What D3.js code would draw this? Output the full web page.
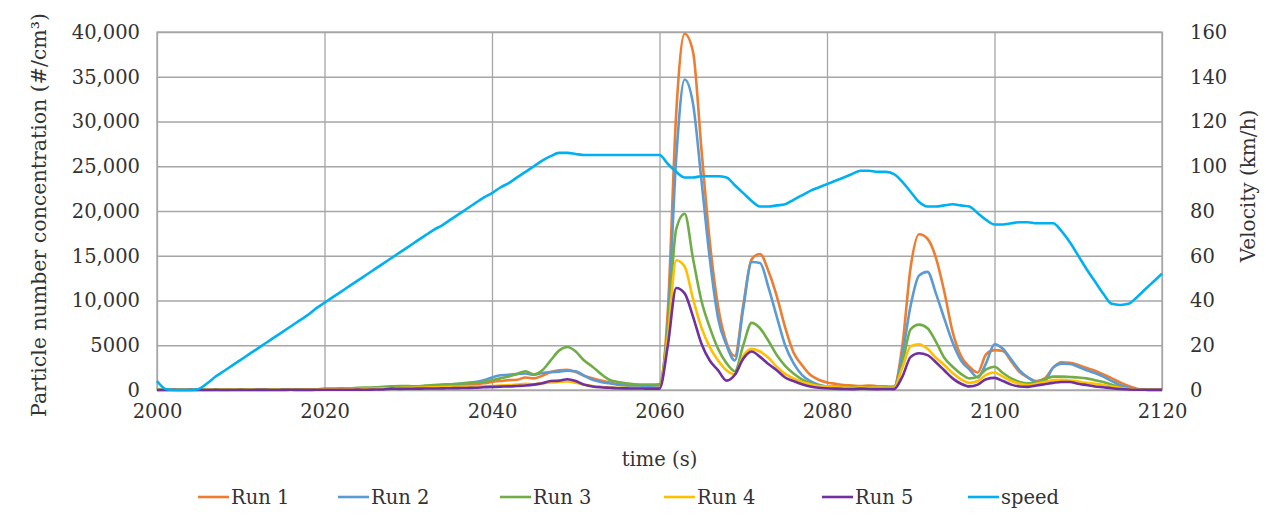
<!DOCTYPE html>
<html>
<head>
<meta charset="utf-8">
<script src="https://cdn.jsdelivr.net/npm/d3@7"></script>
<style>
  body { margin: 0; background: #ffffff; }
  svg text { font-family: "DejaVu Serif", "Liberation Serif", serif; fill: #333333; }
</style>
</head>
<body>
<svg id="chart" width="1266" height="525"></svg>
<script>
// Particle number concentration (#/cm³) sampled once per second, t = 2000 … 2120 s
const startTime = 2000;

const run1 = [
  40, 30, 20, 30, 20, 30, 20, 30, 40, 30,
  30, 40, 30, 50, 40, 40, 60, 50, 60, 70,
  60, 80, 100, 90, 130, 150, 180, 200, 250, 280,
  300, 330, 380, 400, 450, 500, 550, 600, 650, 750,
  900, 1000, 1100, 1150, 1400, 1300, 1600, 2000, 2200, 2250,
  2000, 1600, 1300, 1050, 850, 650, 550, 450, 400, 380,
  400, 9000, 31000, 39800, 37800, 27000, 16600, 9300, 5300, 3800,
  9500, 14600, 15200, 13300, 10500, 7000, 4200, 2800, 1700, 1150,
  850, 700, 550, 500, 450, 500, 420, 400, 380, 5000,
  13800, 17400, 16900, 14800, 11000, 6500, 3800, 2600, 1950, 4000,
  4450, 4350, 3200, 2000, 1400, 1000, 1300, 2500, 3100, 3050,
  2800, 2450, 2150, 1750, 1300, 850, 450, 150, 60, 30,
  20
];

const run2 = [
  20, 30, 20, 20, 30, 20, 30, 20, 30, 20,
  30, 30, 40, 30, 50, 40, 50, 60, 50, 70,
  80, 90, 100, 120, 140, 160, 190, 220, 260, 300,
  350, 400, 420, 480, 550, 600, 700, 800, 900, 1100,
  1400, 1650, 1700, 1800, 1850, 1700, 1900, 2000, 2050, 2150,
  2100, 1600, 1150, 900, 750, 600, 500, 450, 400, 400,
  450, 7500, 26000, 34700, 32000, 23500, 14700, 8000, 5000, 3300,
  9100, 14300, 14200, 11500, 8200, 5000, 3000, 1700, 1000, 600,
  400, 350, 300, 350, 300, 400, 350, 300, 300, 4000,
  9500, 12800, 13200, 10800, 8000, 5300, 3300, 2300, 1400, 3000,
  5100, 4600, 3400, 2200, 1400, 900, 1000, 2500, 2950, 2900,
  2600, 2200, 1900, 1500, 1000, 550, 250, 80, 40, 20,
  20
];

const run3 = [
  60, 40, 30, 40, 30, 40, 30, 40, 50, 40,
  40, 50, 40, 60, 50, 60, 70, 80, 70, 90,
  150, 150, 200, 180, 250, 280, 300, 350, 400, 450,
  450, 400, 500, 550, 600, 650, 700, 750, 800, 900,
  1100, 1300, 1500, 1800, 2100, 1750, 2200, 3300, 4400, 4800,
  4300, 3300, 2600, 1800, 1150, 900, 750, 650, 600, 600,
  650, 7000, 18000, 19700, 14700, 10000, 7000, 4600, 3000, 2100,
  5000, 7500, 6900, 5500, 3900, 2700, 1850, 1200, 750, 500,
  370, 350, 300, 320, 280, 300, 250, 300, 280, 3000,
  6800, 7300, 6900, 5400, 3600, 2600, 1800, 1300, 1500, 2300,
  2600, 1900, 1300, 900, 750, 800, 1200, 1500, 1500, 1450,
  1400, 1300, 1100, 900, 600, 300, 150, 80, 40, 20,
  20
];

const run4 = [
  10, 10, 20, 10, 10, 20, 10, 20, 10, 20,
  20, 20, 30, 20, 30, 30, 40, 30, 50, 60,
  80, 70, 90, 100, 120, 130, 150, 180, 200, 220,
  250, 260, 280, 300, 320, 350, 370, 380, 400, 420,
  450, 500, 550, 600, 700, 650, 750, 850, 900, 950,
  800, 600, 450, 350, 300, 250, 230, 220, 200, 200,
  250, 6000, 14500, 13800, 10200, 7000, 4800, 3300, 2200, 1750,
  3800, 4600, 4300, 3600, 2600, 1800, 1300, 900, 650, 450,
  380, 300, 280, 250, 300, 250, 280, 250, 250, 2500,
  4900, 5100, 4600, 3600, 2800, 1900, 1200, 800, 1000, 1700,
  1950, 1500, 1000, 700, 550, 700, 900, 1100, 1150, 1050,
  950, 800, 700, 550, 400, 250, 100, 50, 30, 20,
  20
];

const run5 = [
  0, 0, 10, 0, 10, 0, 0, 10, 0, 0,
  10, 0, 10, 10, 0, 10, 20, 10, 10, 20,
  20, 30, 20, 30, 40, 30, 50, 60, 150, 130,
  140, 150, 160, 170, 180, 200, 210, 230, 250, 300,
  350, 380, 400, 450, 500, 600, 750, 1000, 1050, 1200,
  1000, 600, 400, 300, 250, 200, 180, 170, 160, 150,
  150, 5000, 11400, 10800, 8200, 5200, 3300, 2200, 1050, 1700,
  3500, 4300, 3700, 2900, 2200, 1400, 1000, 650, 400, 250,
  190, 150, 120, 100, 150, 120, 100, 120, 100, 1500,
  3700, 4100, 3900, 3100, 2200, 1300, 700, 400, 600, 1200,
  1350, 1000, 600, 400, 350, 500, 650, 800, 900, 900,
  700, 550, 400, 300, 200, 120, 60, 30, 20, 10,
  10
];

// Vehicle speed (km/h), same time base
const speed = [
  4, 0.5, 0, 0, 0, 0.5, 3, 6, 8.5, 11,
  13.5, 16, 18.5, 21, 23.5, 26, 28.5, 31, 33.5, 36.5,
  39, 41.5, 44, 46.5, 49, 51.5, 54, 56.5, 59, 61.5,
  64, 66.5, 69, 71.5, 73.5, 76, 78.5, 81, 83.5, 86,
  88, 90.5, 92.5, 95, 97.5, 100, 102.5, 104.5, 106, 106,
  105.5, 105, 105, 105, 105, 105, 105, 105, 105, 105,
  105, 101, 97.5, 95, 95, 95.5, 95.5, 95.5, 95, 91.5,
  88, 84.5, 82, 82, 82.5, 83, 85, 87, 89, 90.5,
  92, 93.5, 95, 96.5, 98, 98, 97.5, 97.5, 96.5, 93,
  88.5, 84, 82, 82, 82.5, 83, 82.5, 82, 79, 76,
  74, 74, 74.5, 75, 75, 74.5, 74.5, 74.5, 71, 66,
  60, 54, 48.5, 43, 38.5, 38, 38.5, 41.5, 45, 48.5,
  52
];

const timeTicks = [2000, 2020, 2040, 2060, 2080, 2100, 2120];
const concTicks = [0, 5000, 10000, 15000, 20000, 25000, 30000, 35000, 40000];
const concTickLabels = ["0", "5000", "10,000", "15,000", "20,000", "25,000", "30,000", "35,000", "40,000"];
const speedTicks = [0, 20, 40, 60, 80, 100, 120, 140, 160];

const seriesNames = ["Run 1", "Run 2", "Run 3", "Run 4", "Run 5", "speed"];
const seriesColors = ["#ED7D31", "#5B9BD5", "#70AD47", "#FFC000", "#7030A0", "#00B0F0"];

// ---- layout ----
const plot = { left: 157, right: 1162, top: 32, bottom: 390 };
const gridColor = "#a6a6a6";

const svg = d3.select("#chart");

const x = d3.scaleLinear().domain([2000, 2120]).range([plot.left, plot.right]);
const yConc = d3.scaleLinear().domain([0, 40000]).range([plot.bottom, plot.top]);
const ySpeed = d3.scaleLinear().domain([0, 160]).range([plot.bottom, plot.top]);

// horizontal grid
svg.append("g")
  .attr("transform", `translate(${plot.left},0)`)
  .call(d3.axisLeft(yConc).tickValues(concTicks)
        .tickSize(-(plot.right - plot.left)).tickFormat(""))
  .call(g => g.select(".domain").remove())
  .call(g => g.selectAll("line").attr("stroke", gridColor).attr("stroke-width", 1.3));

// vertical grid
svg.append("g")
  .attr("transform", `translate(0,${plot.bottom})`)
  .call(d3.axisBottom(x).tickValues(timeTicks)
        .tickSize(-(plot.bottom - plot.top)).tickFormat(""))
  .call(g => g.select(".domain").remove())
  .call(g => g.selectAll("line").attr("stroke", gridColor).attr("stroke-width", 1.3));

// plot frame
svg.append("rect")
  .attr("x", plot.left).attr("y", plot.top)
  .attr("width", plot.right - plot.left).attr("height", plot.bottom - plot.top)
  .attr("fill", "none").attr("stroke", gridColor).attr("stroke-width", 1.3);

// left axis labels
svg.append("g")
  .attr("transform", `translate(${plot.left},0)`)
  .call(d3.axisLeft(yConc).tickValues(concTicks).tickSize(0).tickPadding(17)
        .tickFormat((d, i) => concTickLabels[i]))
  .call(g => g.select(".domain").remove())
  .call(g => g.selectAll("text").attr("font-size", 19.5).attr("font-family", null));

// right axis labels
svg.append("g")
  .attr("transform", `translate(${plot.right},0)`)
  .call(d3.axisRight(ySpeed).tickValues(speedTicks).tickSize(0).tickPadding(28)
        .tickFormat(d3.format("d")))
  .call(g => g.select(".domain").remove())
  .call(g => g.selectAll("text").attr("font-size", 19.5).attr("font-family", null));

// bottom axis labels
svg.append("g")
  .attr("transform", `translate(0,${plot.bottom})`)
  .call(d3.axisBottom(x).tickValues(timeTicks).tickSize(0).tickPadding(14)
        .tickFormat(d3.format("d")))
  .call(g => g.select(".domain").remove())
  .call(g => g.selectAll("text").attr("font-size", 19.5).attr("font-family", null));

// axis titles
svg.append("text")
  .attr("transform", `translate(46,215) rotate(-90)`)
  .attr("text-anchor", "middle").attr("font-size", 20.5)
  .text("Particle number concentration (#/cm³)");

svg.append("text")
  .attr("transform", `translate(1255,186) rotate(-90)`)
  .attr("text-anchor", "middle").attr("font-size", 20)
  .text("Velocity (km/h)");

svg.append("text")
  .attr("x", (plot.left + plot.right) / 2).attr("y", 466)
  .attr("text-anchor", "middle").attr("font-size", 19.5)
  .text("time (s)");

// series
const runs = [run1, run2, run3, run4, run5];
const lineConc = d3.line()
  .x((d, i) => x(startTime + i))
  .y(d => yConc(d))
  .curve(d3.curveMonotoneX);
const lineSpeed = d3.line()
  .x((d, i) => x(startTime + i))
  .y(d => ySpeed(d))
  .curve(d3.curveMonotoneX);

const lines = svg.append("g");
runs.forEach((r, k) => {
  lines.append("path")
    .datum(r)
    .attr("d", lineConc)
    .attr("fill", "none")
    .attr("stroke", seriesColors[k])
    .attr("stroke-width", 2.6)
    .attr("stroke-linejoin", "round");
});
lines.append("path")
  .datum(speed)
  .attr("d", lineSpeed)
  .attr("fill", "none")
  .attr("stroke", seriesColors[5])
  .attr("stroke-width", 2.6)
  .attr("stroke-linejoin", "round");

// legend
const legendX = [198, 338, 500, 664, 822, 968];
const legendY = 497;
const legend = svg.append("g");
seriesNames.forEach((name, k) => {
  const g = legend.append("g").attr("transform", `translate(${legendX[k]},${legendY})`);
  g.append("line").attr("x1", 0).attr("x2", 31).attr("y1", 0).attr("y2", 0)
    .attr("stroke", seriesColors[k]).attr("stroke-width", 2.6);
  g.append("text").attr("x", 33).attr("y", 7).attr("font-size", 19.5).text(name);
});
</script>
</body>
</html>
